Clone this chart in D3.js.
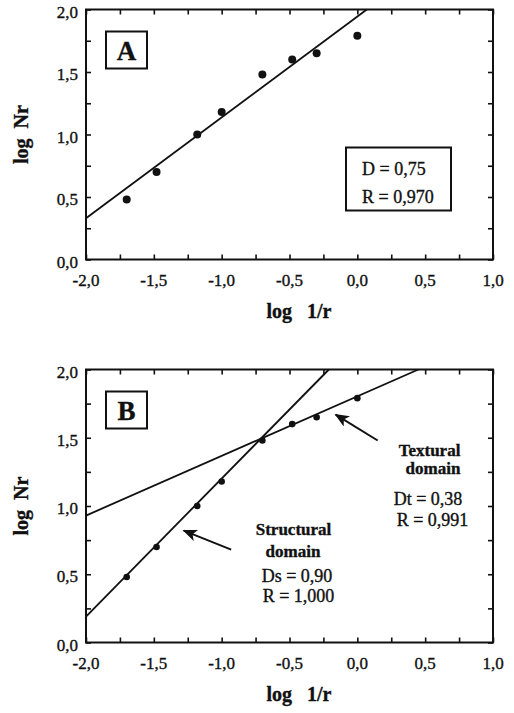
<!DOCTYPE html>
<html>
<head>
<meta charset="utf-8">
<script src="https://cdnjs.cloudflare.com/ajax/libs/d3/7.8.5/d3.min.js"></script>
<style>
  body { margin: 0; background: #fff; }
  svg { display: block; }
  text { font-family: "Liberation Serif", "Times New Roman", serif; fill: #111; stroke: #111; stroke-width: 0.35px; }
</style>
</head>
<body>
<svg id="chart" width="514" height="713"></svg>
<script>
"use strict";

// tick values
var xTicks = [-2, -1.5, -1, -0.5, 0, 0.5, 1];
var yTicks = [0, 0.5, 1, 1.5, 2];

// measured points (same in both panels)
var logInvR = [-1.70, -1.48, -1.18, -1.00, -0.70, -0.48, -0.30, 0.00];
var logNr = [0.48, 0.70, 1.00, 1.18, 1.48, 1.60, 1.65, 1.79];

// fitted lines, as end points [log 1/r, log Nr]
var fitA = [[-2, 0.33], [0.07, 2.0]];
var fitStructural = [[-2, 0.19], [-0.21, 2.0]];
var fitTextural = [[-2, 0.93], [0.45, 2.0]];

// arrows B [tail, head]
var arrowTextural = [[0.15, 1.48], [-0.16, 1.67]];
var arrowStructural = [[-0.93, 0.68], [-1.28, 0.82]];

var svg = d3.select("#chart");
var fmt = function(d) { return d3.format(".1f")(d).replace(".", ",").replace("\u2212", "-"); };

svg.append("defs").append("marker")
  .attr("id", "head")
  .attr("viewBox", "0 0 12 10")
  .attr("refX", 11).attr("refY", 5)
  .attr("markerWidth", 15).attr("markerHeight", 12)
  .attr("markerUnits", "userSpaceOnUse")
  .attr("orient", "auto")
  .append("path")
  .attr("d", "M0,0 L12,5 L0,10 L3,5 Z")
  .attr("fill", "#111");

function drawPanel(top, height, letter, dotR) {
  var left = 86, width = 407;
  var g = svg.append("g").attr("transform", "translate(" + left + "," + top + ")");
  var x = d3.scaleLinear().domain([-2, 1]).range([0, width]);
  var y = d3.scaleLinear().domain([0, 2]).range([height, 0]);
  var minorX = d3.range(-2, 1.001, 0.25);
  var minorY = d3.range(0, 2.001, 0.25);

  // ticks, all pointing inward
  g.append("g").attr("transform", "translate(0," + height + ")")
    .call(d3.axisBottom(x).tickValues(minorX).tickSize(-5).tickFormat(""));
  g.append("g")
    .call(d3.axisTop(x).tickValues(minorX).tickSize(-5).tickFormat(""));
  g.append("g")
    .call(d3.axisLeft(y).tickValues(minorY).tickSize(-5).tickFormat(""));
  g.append("g").attr("transform", "translate(" + width + ",0)")
    .call(d3.axisRight(y).tickValues(minorY).tickSize(-5).tickFormat(""));
  g.selectAll(".domain").remove();
  g.selectAll(".tick line").attr("stroke", "#111").attr("stroke-width", 1.6);

  // tick labels
  g.selectAll(".xl").data(xTicks).enter().append("text")
    .attr("x", function(d) { return x(d); })
    .attr("y", height + 26)
    .attr("text-anchor", "middle")
    .style("font-size", "17px")
    .text(fmt);
  g.selectAll(".yl").data(yTicks).enter().append("text")
    .attr("x", -8)
    .attr("y", function(d) { return y(d) + 8; })
    .attr("text-anchor", "end")
    .style("font-size", "17px")
    .text(fmt);

  // frame
  g.append("rect").attr("width", width).attr("height", height)
    .attr("fill", "none").attr("stroke", "#111").attr("stroke-width", 2);

  // axis titles
  g.append("text")
    .attr("x", 213).attr("y", height + 58)
    .attr("text-anchor", "middle")
    .style("font-size", "20px").style("font-weight", "bold")
    .attr("xml:space", "preserve")
    .text("log   1/r");
  g.append("text")
    .attr("transform", "translate(-58," + (height / 2) + ") rotate(-90)")
    .attr("text-anchor", "middle")
    .style("font-size", "20px").style("font-weight", "bold")
    .attr("xml:space", "preserve")
    .text("log  Nr");

  // panel letter
  g.append("rect").attr("x", 20).attr("y", 22).attr("width", 41).attr("height", 37)
    .attr("fill", "#fff").attr("stroke", "#111").attr("stroke-width", 2);
  g.append("text").attr("x", 40.5).attr("y", 50)
    .attr("text-anchor", "middle")
    .style("font-size", "27px").style("font-weight", "bold")
    .text(letter);

  var line = d3.line().x(function(d) { return x(d[0]); }).y(function(d) { return y(d[1]); });
  var pts = logInvR.map(function(v, i) { return [v, logNr[i]]; });

  return { g: g, x: x, y: y, line: line, pts: pts, dotR: dotR };
}

function drawDots(p) {
  p.g.selectAll(".dot").data(p.pts).enter().append("circle")
    .attr("cx", function(d) { return p.x(d[0]); })
    .attr("cy", function(d) { return p.y(d[1]); })
    .attr("r", p.dotR)
    .attr("fill", "#111");
}

// ---- panel A
var pA = drawPanel(9.5, 250, "A", 4);
pA.g.append("path").attr("d", pA.line(fitA))
  .attr("fill", "none").attr("stroke", "#111").attr("stroke-width", 1.8);
drawDots(pA);
pA.g.append("rect").attr("x", 260).attr("y", 138).attr("width", 105).attr("height", 63)
  .attr("fill", "#fff").attr("stroke", "#111").attr("stroke-width", 2);
pA.g.append("text").attr("x", 276).attr("y", 165.5).style("font-size", "18px").text("D = 0,75");
pA.g.append("text").attr("x", 276).attr("y", 193.5).style("font-size", "18px").text("R = 0,970");

// ---- panel B
var pB = drawPanel(369.5, 273, "B", 3.3);
[fitStructural, fitTextural].forEach(function(f) {
  pB.g.append("path").attr("d", pB.line(f))
    .attr("fill", "none").attr("stroke", "#111").attr("stroke-width", 1.8);
});
drawDots(pB);
[arrowTextural, arrowStructural].forEach(function(a) {
  pB.g.append("path").attr("d", pB.line(a))
    .attr("fill", "none").attr("stroke", "#111").attr("stroke-width", 2)
    .attr("marker-end", "url(#head)");
});

function label(p, cx, cy, txt, bold) {
  p.g.append("text").attr("x", cx).attr("y", cy)
    .attr("text-anchor", "middle")
    .style("font-size", bold ? "17px" : "18px")
    .style("font-weight", bold ? "bold" : "normal")
    .text(txt);
}
label(pB, 343.5, 86.5, "Textural", true);
label(pB, 347, 104.5, "domain", true);
label(pB, 342, 135.5, "Dt = 0,38", false);
label(pB, 346.5, 156, "R = 0,991", false);
label(pB, 207.5, 165.5, "Structural", true);
label(pB, 207, 187, "domain", true);
label(pB, 211, 212, "Ds = 0,90", false);
label(pB, 212.5, 232, "R = 1,000", false);
</script>
</body>
</html>
